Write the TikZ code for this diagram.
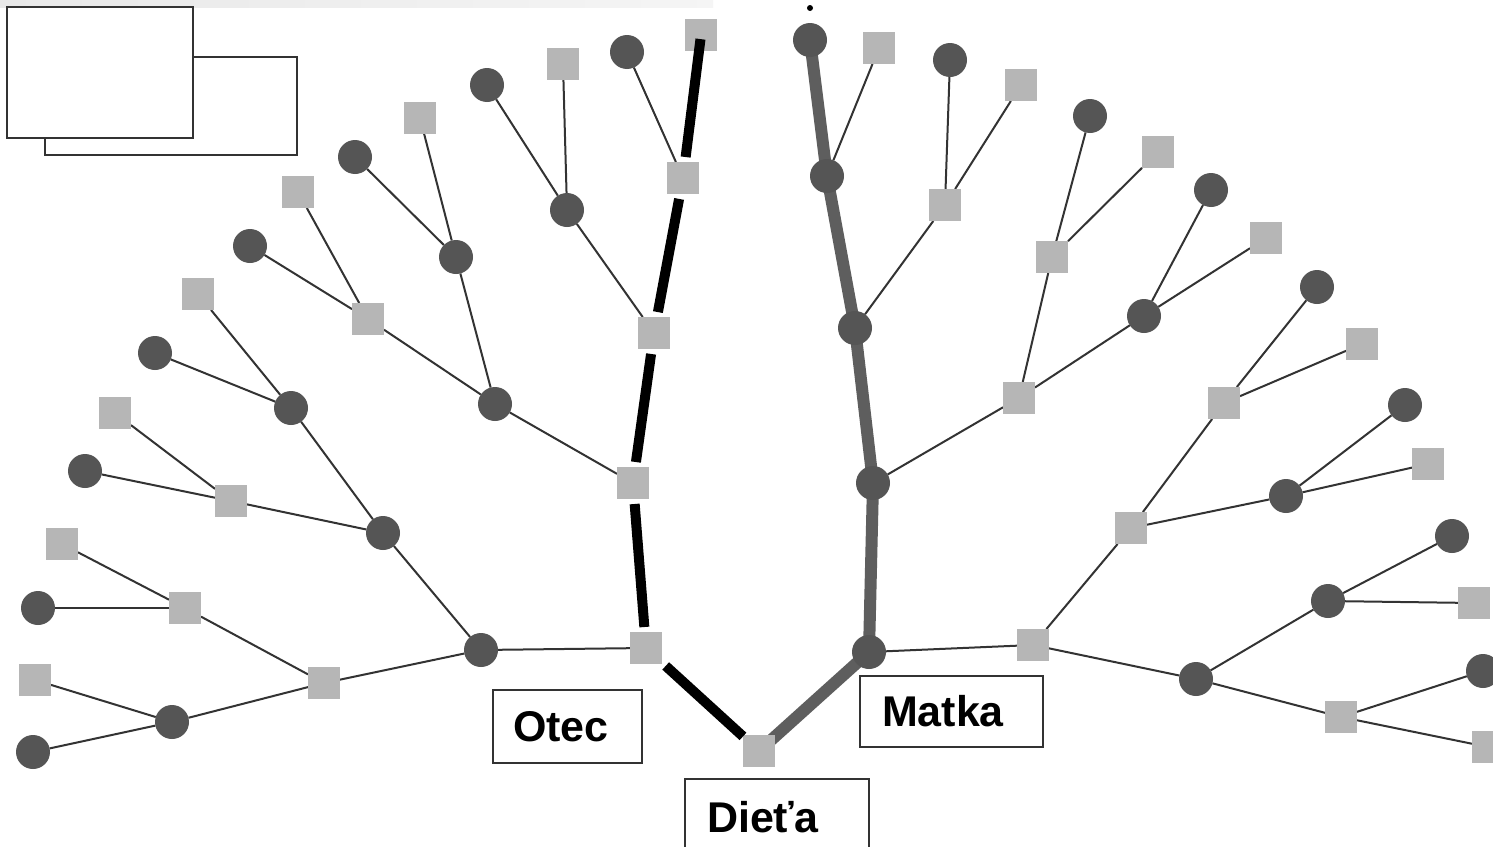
\documentclass[tikz,border=0pt]{standalone}
\usepackage{fontspec}
\setmainfont{Liberation Sans}
\pgfdeclarelayer{canvas}
\pgfdeclarelayer{background}
\pgfsetlayers{canvas,background,main}
\definecolor{femgray}{HTML}{555555}
\definecolor{malegray}{HTML}{B6B6B6}
\definecolor{linkgray}{HTML}{333333}
\definecolor{mompath}{HTML}{5E5E5E}
\tikzset{
  male/.style={rectangle, fill=malegray, minimum size=16pt, inner sep=0pt, outer sep=0pt},
  female/.style={circle, fill=femgray, minimum size=17pt, inner sep=0pt, outer sep=0pt},
  link/.style={draw=linkgray, line width=1pt},
  dadline/.style={draw=black, line width=5pt, shorten <=2.5pt, shorten >=2.5pt},
  momline/.style={draw=mompath, line width=6pt, line cap=round, line join=round},
  namebox/.style={draw=linkgray, line width=0.8pt, fill=white, align=left,
    font=\bfseries\fontsize{21.5pt}{24pt}\selectfont, inner ysep=0pt},
  frame/.style={draw=linkgray, line width=0.8pt, fill=white}
}
\begin{document}
\begin{tikzpicture}[x=0.5pt, y=-0.5pt]
\useasboundingbox (0,0) rectangle (1493,846);
\clip (0,0) rectangle (1493,846);
\begin{pgfonlayer}{canvas}
  \fill[white] (0,0) rectangle (1493,846);
  % pale strip along the top edge
  \shade[left color=gray!18, right color=gray!8] (0,0) rectangle (713,7);
\end{pgfonlayer}
% two empty overlapping frames
\draw[frame] (45,57) rectangle (297,155);
\draw[frame] (7,7) rectangle (193,138);

% ---------- child ----------
\node[male] (c) at (759,751) {};

% ---------- father's side ----------
\node[male]   (f)      at (646,648) {};
\node[female] (fm)     at (481,650) {};
\node[male]   (ff)     at (633,483) {};
\node[female] (ffm)    at (495,404) {};
\node[male]   (fff)    at (654,333) {};
\node[female] (fffm)   at (567,210) {};
\node[male]   (ffff)   at (683,178) {};
\node[male]   (fffff)  at (701,35) {};
\node[female] (ffffm)  at (627,52) {};
\node[male]   (fffmf)  at (563,64) {};
\node[female] (fffmm)  at (487,85) {};
\node[female] (ffmm)   at (456,257) {};
\node[male]   (ffmf)   at (368,319) {};
\node[male]   (ffmmf)  at (420,118) {};
\node[female] (ffmmm)  at (355,157) {};
\node[male]   (ffmff)  at (298,192) {};
\node[female] (ffmfm)  at (250,246) {};
\node[female] (fmm)    at (383,533) {};
\node[male]   (fmf)    at (324,683) {};
\node[female] (fmmm)   at (291,408) {};
\node[male]   (fmmf)   at (231,501) {};
\node[male]   (fmmmf)  at (198,294) {};
\node[female] (fmmmm)  at (155,353) {};
\node[male]   (fmmff)  at (115,413) {};
\node[female] (fmmfm)  at (85,471) {};
\node[male]   (fmff)   at (185,608) {};
\node[female] (fmfm)   at (172,722) {};
\node[male]   (fmfff)  at (62,544) {};
\node[female] (fmffm)  at (38,608) {};
\node[male]   (fmfmf)  at (35,680) {};
\node[female] (fmfmm)  at (33,752) {};

% ---------- mother's side ----------
\node[female] (m)      at (869,652) {};
\node[female] (mm)     at (873,483) {};
\node[male]   (mf)     at (1033,645) {};
\node[female] (mmm)    at (855,328) {};
\node[male]   (mmf)    at (1019,398) {};
\node[female] (mmmm)   at (827,176) {};
\node[male]   (mmmf)   at (945,205) {};
\node[female] (mmmmm)  at (810,40) {};
\node[male]   (mmmmf)  at (879,48) {};
\node[female] (mmmfm)  at (950,60) {};
\node[male]   (mmmff)  at (1021,85) {};
\node[male]   (mmff)   at (1052,257) {};
\node[female] (mmfm)   at (1144,316) {};
\node[female] (mmffm)  at (1090,116) {};
\node[male]   (mmfff)  at (1158,152) {};
\node[female] (mmfmm)  at (1211,190) {};
\node[male]   (mmfmf)  at (1266,238) {};
\node[male]   (mff)    at (1131,528) {};
\node[female] (mfm)    at (1196,679) {};
\node[male]   (mfff)   at (1224,403) {};
\node[female] (mffm)   at (1286,496) {};
\node[female] (mfffm)  at (1317,287) {};
\node[male]   (mffff)  at (1362,344) {};
\node[female] (mffmm)  at (1405,405) {};
\node[male]   (mffmf)  at (1428,464) {};
\node[female] (mfmm)   at (1328,601) {};
\node[male]   (mfmf)   at (1341,717) {};
\node[female] (mfmmm)  at (1452,536) {};
\node[male]   (mfmmf)  at (1474,603) {};
\node[female] (mfmfm)  at (1483,671) {};
\node[male]   (mfmff)  at (1488,747) {};

% small dot above the topmost ancestor
\node[circle, fill=black, minimum size=3pt, inner sep=0pt] (tip) at (810,8) {};

\begin{pgfonlayer}{background}
  % thin parent links, father's side
  \foreach \a/\b in {f/fm, ff/ffm, fff/fffm, ffff/ffffm, fffm/fffmf, fffm/fffmm,
                     ffm/ffmm, ffm/ffmf, ffmm/ffmmf, ffmm/ffmmm, ffmf/ffmff, ffmf/ffmfm,
                     fm/fmm, fm/fmf, fmm/fmmm, fmm/fmmf, fmmm/fmmmf, fmmm/fmmmm,
                     fmmf/fmmff, fmmf/fmmfm, fmf/fmff, fmf/fmfm, fmff/fmfff, fmff/fmffm,
                     fmfm/fmfmf, fmfm/fmfmm}
    \draw[link] (\a) -- (\b);
  % thin parent links, mother's side
  \foreach \a/\b in {m/mf, mm/mmf, mmm/mmmf, mmmm/mmmmf, mmmf/mmmfm, mmmf/mmmff,
                     mmf/mmff, mmf/mmfm, mmff/mmffm, mmff/mmfff, mmfm/mmfmm, mmfm/mmfmf,
                     mf/mff, mf/mfm, mff/mfff, mff/mffm, mfff/mfffm, mfff/mffff,
                     mffm/mffmm, mffm/mffmf, mfm/mfmm, mfm/mfmf, mfmm/mfmmm, mfmm/mfmmf,
                     mfmf/mfmfm, mfmf/mfmff}
    \draw[link] (\a) -- (\b);
  % maternal line
  \draw[momline] (c.center) -- (m.center) -- (mm.center) -- (mmm.center)
                 -- (mmmm.center) -- (mmmmm.center);
\end{pgfonlayer}

% paternal line, drawn over the squares it leaves
\draw[dadline, shorten <=0pt] (c) -- (f);
\draw[dadline] (f) -- (ff);
\draw[dadline] (ff) -- (fff);
\draw[dadline] (fff) -- (ffff);
\draw[dadline, shorten >=-6pt] (ffff) -- (fffff);

% name boxes
\node[namebox, text width=54.5pt, inner xsep=10pt, minimum height=36.5pt]
  (otec) at (567.5,726.5) {Otec};
\node[namebox, text width=69.5pt, inner xsep=11pt, minimum height=35.5pt]
  (matka) at (951.5,711.5) {Matka};
\node[namebox, text width=70pt, inner xsep=11pt, minimum height=38pt]
  (dieta) at (777,817) {Dieťa};
\end{tikzpicture}
\end{document}
